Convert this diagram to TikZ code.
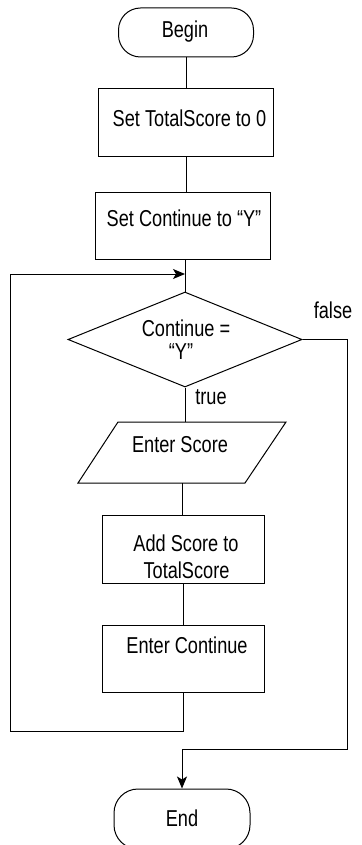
\documentclass[tikz,border=0pt]{standalone}
\usepackage{fontspec}
\setmainfont{Liberation Sans}[FakeStretch=0.79]
\usetikzlibrary{shapes.geometric,arrows.meta}

\tikzset{
  base/.style={draw, line width=1pt, inner sep=0pt},
  terminal/.style={base, rectangle, rounded corners=22pt},
  procbox/.style={base, rectangle},
  decision/.style={base, diamond},
  txt/.style={font=\fontsize{23}{20}\selectfont, inner sep=0pt, align=center},
  link/.style={line width=1pt},
  arrowlink/.style={line width=1pt, -{Stealth[length=12pt,width=10pt,inset=3pt]}},
}

\begin{document}
\begin{tikzpicture}[x=1pt,y=-1pt]
\useasboundingbox (0,0) rectangle (361,845);

% shapes
\node[terminal, minimum width=135pt, minimum height=49pt] (begin) at (186,32.5) {};
\node[procbox, minimum width=175pt, minimum height=68pt] (b1) at (186,123) {};
\node[procbox, minimum width=175pt, minimum height=67pt] (b2) at (183,225.5) {};
\node[decision, minimum width=234pt, minimum height=95pt] (dec) at (185,339.5) {};
% input/output parallelogram
\draw[line width=1pt, line join=miter] (118,422) -- (286,422) -- (245,483) -- (78,483) -- cycle;
\coordinate (ioN) at (185,422);
\coordinate (ioS) at (182,483);
\node[procbox, minimum width=162pt, minimum height=68pt] (b3) at (183,549) {};
\node[procbox, minimum width=162pt, minimum height=67pt] (b4) at (183,658.5) {};
\node[terminal, minimum width=136pt, minimum height=60pt, rounded corners=24pt] (end) at (182,819) {};

% texts
\node[txt] (tbegin) at (185,32) {Begin};
\node[txt] (tb1) at (189.5,118) {Set TotalScore to 0};
\node[txt] (tb2) at (184,218) {Set Continue to “Y”};
\node[txt] (tdec1) at (186,328) {Continue =};
\node[txt] (tdec2) at (181,352) {“Y”};
\node[txt] (tio) at (180,445) {Enter Score};
\node[txt] (tb3a) at (186,543) {Add Score to};
\node[txt] (tb3b) at (186.5,570) {TotalScore};
\node[txt] (tb4) at (187,645) {Enter Continue};
\node[txt] (tend) at (182,818) {End};
\node[txt] (lfalse) at (333,310) {false};
\node[txt] (ltrue) at (211,397) {true};

% connectors
\coordinate (loopL) at (10,731);
\coordinate (join) at (185,274);
\coordinate (rt) at (347,749);

\draw[link] (begin.south) -- (begin.south |- b1.north);
\draw[link] (b1.south) -- (b1.south |- b2.north);
\draw[link] (dec.north |- b2.south) -- (dec.north);
\draw[link] (dec.south) -- (ioN);
\draw[link] (ioS) -- (ioS |- b3.north);
\draw[link] (b3.south) -- (b3.south |- b4.north);
\draw[arrowlink] (b4.south) |- (loopL) |- (join);
\draw[arrowlink] (dec.east) -| (rt) -| (end.north);
\end{tikzpicture}
\end{document}
